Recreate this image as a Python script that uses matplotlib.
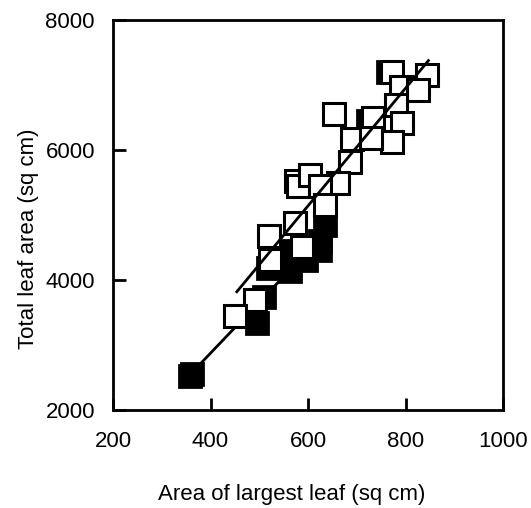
import numpy as np
import matplotlib.pyplot as plt

plt.rcParams['font.family'] = ['Liberation Sans', 'DejaVu Sans']

# open squares (area of largest leaf, total leaf area)
open_x = [772, 845, 790, 826, 780, 654, 733, 793, 772, 690, 730, 686,
          575, 580, 604, 662, 625, 635, 573, 519, 587, 522, 491, 451]
open_y = [7200, 7150, 6970, 6920, 6690, 6560, 6487, 6415, 6128, 6165, 6180, 5820,
          5520, 5440, 5615, 5487, 5440, 5154, 4870, 4670, 4510, 4310, 3692, 3446]

# filled squares
filled_x = [357, 363, 495, 510, 518, 563, 563, 596, 625, 625, 635, 723, 764]
filled_y = [2525, 2555, 3338, 3738, 4190, 4140, 4450, 4310, 4460, 4600, 4846, 6440, 7195]

# fitted lines
open_fit_x = [454, 847]
open_fit_y = [3820, 7375]
filled_fit_x = [360, 640]
filled_fit_y = [2560, 4760]

fig = plt.figure(figsize=(5.31, 5.08), dpi=100)
ax = fig.add_axes([113 / 531, 98 / 508, 390 / 531, 390 / 508])

ax.plot(filled_x, filled_y, 's', ms=16, mfc='black', mec='black', mew=2, zorder=2)
ax.plot(filled_fit_x, filled_fit_y, '-', color='black', lw=2, zorder=1)
ax.plot(open_x, open_y, 's', ms=16, mfc='white', mec='black', mew=2.2, zorder=3)
ax.plot(open_fit_x, open_fit_y, '-', color='black', lw=2, zorder=4)

ax.set_xlim(200, 1000)
ax.set_ylim(2000, 8000)
ax.set_xticks([200, 400, 600, 800, 1000])
ax.set_yticks([2000, 4000, 6000, 8000])

for s in ax.spines.values():
    s.set_linewidth(2)
ax.tick_params(direction='in', length=9, width=2, labelsize=16)
ax.tick_params(axis='x', pad=15)
ax.tick_params(axis='y', pad=13)

ax.set_xlabel('Area of largest leaf (sq cm)', fontsize=16)
ax.set_ylabel('Total leaf area (sq cm)', fontsize=16)
ax.xaxis.set_label_coords(0.459, -0.19)
ax.yaxis.set_label_coords(-0.19, 0.438)

fig.savefig('out.png', dpi=100)
